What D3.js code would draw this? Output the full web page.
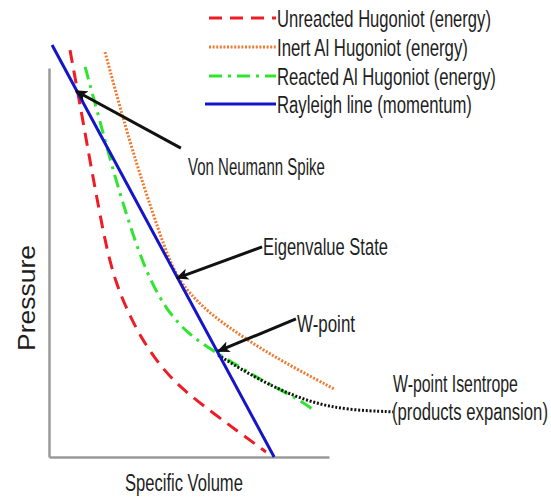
<!DOCTYPE html>
<html><head><meta charset="utf-8">
<script src="https://cdn.jsdelivr.net/npm/d3@7"></script>
<style>
html,body{margin:0;padding:0;background:#fff;}
svg{display:block;}
text{font-family:Arial,"Liberation Sans",sans-serif;fill:#1e1e1e;}
</style></head>
<body><div id="chart"></div>
<script>
// Specific volume (v) / pressure (p) in arbitrary units
const unreactedV = [0.75,1.11,1.46,1.79,2.07,2.39,2.79,3.25,3.96,4.79,5.86,6.82,7.75];
const unreactedP = [10.46,9.05,7.63,6.35,5.32,4.47,3.78,3.11,2.34,1.72,1.13,0.62,0.13];
const inertV = [2.00,2.61,3.14,3.64,4.11,4.57,5.21,5.86,7.07,8.25,10.18];
const inertP = [10.41,8.79,7.51,6.41,5.42,4.60,4.06,3.62,3.01,2.49,1.75];
const reactedV = [1.29,1.64,2.00,2.32,2.64,3.00,3.50,4.18,5.04,6.04,7.64,8.96,9.54];
const reactedP = [10.03,9.10,8.15,7.30,6.53,5.71,4.71,3.78,3.11,2.65,1.95,1.47,1.16];
const rayleighV = [0.11,8.04];
const rayleighP = [10.59,0.00];
const isentropeV = [6.04,7.07,8.25,9.43,10.64,12.29];
const isentropeP = [2.62,2.16,1.72,1.39,1.21,1.16];
const legendLabels = ["Unreacted Hugoniot (energy)","Inert Al Hugoniot (energy)","Reacted Al Hugoniot (energy)","Rayleigh line (momentum)"];
const xLabel = "Specific Volume";
const yLabel = "Pressure";
const annoLabels = ["Von Neumann Spike","Eigenvalue State","W-point"];
const annoTail = [[4.71,7.94],[7.61,5.40],[8.82,3.55]];
const annoTip = [[0.96,9.41],[4.57,4.60],[6.04,2.72]];
const isentropeLabel = ["W-point Isentrope","(products expansion)"];

const W = 551, H = 497;
const svg = d3.select("#chart").append("svg").attr("width",W).attr("height",H);
const x = d3.scaleLinear().domain([0,10]).range([49,329]);
const y = d3.scaleLinear().domain([0,10]).range([457,68]);

const defs = svg.append("defs");
defs.append("marker").attr("id","arr").attr("viewBox","0 0 10 10")
  .attr("refX",9).attr("refY",5).attr("markerWidth",4.2).attr("markerHeight",4.2)
  .attr("markerUnits","strokeWidth").attr("orient","auto")
  .append("path").attr("d","M0,0.5 L10,5 L0,9.5 L2.5,5 Z").attr("fill","#111");

// axes (no ticks)
const xAxis = d3.axisBottom(x).tickValues([]).tickSizeOuter(0);
const yAxis = d3.axisLeft(y).tickValues([]).tickSizeOuter(0);
svg.append("g").attr("transform",`translate(0,${y(0)})`).call(xAxis)
  .select(".domain").attr("stroke","#9a9a9a").attr("stroke-width",2.5);
svg.append("g").attr("transform",`translate(${x(0)},0)`).call(yAxis)
  .select(".domain").attr("stroke","#9a9a9a").attr("stroke-width",2.5);

const series = [
  {v:unreactedV,p:unreactedP,color:"#ee1c24",dash:"13,8",curve:true},
  {v:inertV,p:inertP,color:"#f07a30",dash:"2,1.6",curve:true},
  {v:reactedV,p:reactedP,color:"#2ee62e",dash:"13,6,3,6",curve:true},
  {v:isentropeV,p:isentropeP,color:"#111",dash:"2,1.8",curve:true},
  {v:rayleighV,p:rayleighP,color:"#1414c8",dash:null,curve:false}
];
series.forEach(s=>{
  const pts = s.v.map((v,i)=>[v,s.p[i]]);
  const line = d3.line().x(d=>x(d[0])).y(d=>y(d[1]))
    .curve(s.curve ? d3.curveBasis : d3.curveLinear);
  svg.append("path").attr("d",line(pts)).attr("fill","none")
    .attr("stroke",s.color).attr("stroke-width",3)
    .attr("stroke-dasharray",s.dash);
});

// text helper: fit a text to a measured width by horizontal scaling
function fitText(str, px, py, width, fs, rot){
  const t = svg.append("text").attr("font-size",fs).text(str);
  const len = t.node().getComputedTextLength();
  const s = width/len;
  t.attr("transform",`translate(${px},${py})${rot?" rotate(-90)":""} scale(${s},1)`);
  return t;
}

// legend
const legY = [18,47,76,104];
const legW = [214,191,219,195];
const legStyle = [series[0],series[1],series[2],series[4]];
legendLabels.forEach((lab,i)=>{
  svg.append("line").attr("x1",i===3?205:209).attr("x2",276)
    .attr("y1",legY[i]).attr("y2",legY[i])
    .attr("stroke",legStyle[i].color).attr("stroke-width",3)
    .attr("stroke-dasharray",legStyle[i].dash);
  fitText(lab, 277, legY[i]+8.5, legW[i], 23);
});

// annotation arrows
annoLabels.forEach((lab,i)=>{
  svg.append("line").attr("x1",x(annoTail[i][0])).attr("y1",y(annoTail[i][1]))
    .attr("x2",x(annoTip[i][0])).attr("y2",y(annoTip[i][1]))
    .attr("stroke","#111").attr("stroke-width",3).attr("marker-end","url(#arr)");
});
const annoPos = [[188,175,137],[263,255,125],[297,332,58]];
annoLabels.forEach((lab,i)=>{
  fitText(lab, annoPos[i][0], annoPos[i][1], annoPos[i][2], 23);
});
fitText(isentropeLabel[0], 393, 392, 125, 23);
fitText(isentropeLabel[1], 392, 420, 156, 23);

// axis labels
fitText(xLabel, 125, 491, 118, 24);
fitText(yLabel, 35, 351, 106, 24, true);
</script></body></html>
